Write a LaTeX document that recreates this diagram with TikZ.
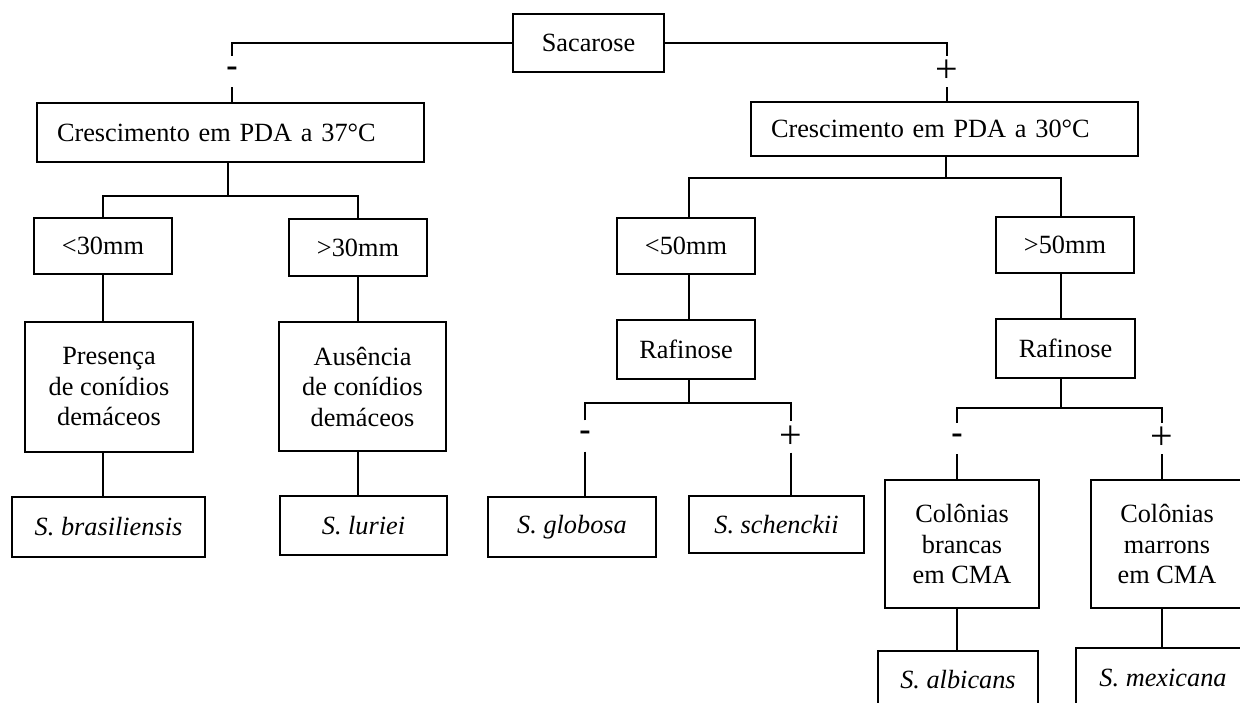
\documentclass[tikz,border=0pt]{standalone}
\usepackage{fontspec}
\setmainfont{Liberation Serif}
\begin{document}
\begin{tikzpicture}[x=1pt,y=-1pt,
  every node/.style={font=\fontsize{26.3}{30.5}\selectfont},
  box/.style={draw, line width=1.9pt, inner sep=0pt, align=center},
  sz/.style 2 args={minimum width=#1, minimum height=#2},
  lbox/.style={box, text width=347pt, align=left, inner xsep=20pt},
  sign/.style={inner sep=0pt, minimum height=31},
  minussign/.style={sign, font=\fontsize{34}{34}\selectfont\bfseries},
  plussign/.style={sign, font=\fontsize{40}{40}\selectfont},
  link/.style={line width=1.9pt}]
\useasboundingbox (0,0) rectangle (1240,702);

% level 0
\node[box, sz={151}{58}] (sac) at (588.5,43) {Sacarose};
\node[minussign] (m1) at (232,71.5) {-};
\node[plussign] (p1) at (947,71.5) {+};

% level 1
\node[lbox, sz={387}{59}] (c37) at (230.5,132.5) {Crescimento em PDA a 37°C};
\node[lbox, sz={387}{54}] (c30) at (944.5,129) {Crescimento em PDA a 30°C};

% left subtree
\coordinate (j1) at (228,196);
\node[box, sz={138}{56}] (lt30) at (103,246) {<30mm};
\node[box, sz={138}{57}] (gt30) at (358,247.5) {>30mm};
\node[box, sz={168}{130}] (pres) at (109,387) {Presença\\de conídios\\demáceos};
\node[box, sz={167}{129}] (aus) at (362.5,386.5) {Ausência\\de conídios\\demáceos};
\node[box, sz={193}{60}] (sbra) at (108.5,527) {\textit{S. brasiliensis}};
\node[box, sz={167}{59}] (slur) at (363.5,525.5) {\textit{S. luriei}};

% right subtree
\coordinate (j2) at (946,178);
\node[box, sz={138}{56}] (lt50) at (686,246) {<50mm};
\node[box, sz={138}{59}] (raf1) at (686,349.5) {Rafinose};
\coordinate (j3) at (689,403);
\node[minussign] (m2) at (585,436) {-};
\node[plussign] (p2) at (791,437) {+};
\node[box, sz={168}{60}] (sglo) at (572,527) {\textit{S. globosa}};
\node[box, sz={175}{57}] (ssch) at (776.5,524.5) {\textit{S. schenckii}};

\node[box, sz={138}{56}] (gt50) at (1065,245) {>50mm};
\node[box, sz={139}{59}] (raf2) at (1065.5,348.5) {Rafinose};
\coordinate (j4) at (1061,408);
\node[minussign] (m3) at (957,438.5) {-};
\node[plussign] (p3) at (1162,438.5) {+};
\node[box, sz={154}{128}] (cb) at (962,544) {Colônias\\brancas\\em CMA};
\node[box, sz={152}{128}] (cm) at (1167,544) {Colônias\\marrons\\em CMA};
\node[box, sz={160}{57}] (salb) at (958,679.5) {\textit{S. albicans}};
\node[box, sz={174}{60}] (smex) at (1163,678) {\textit{S. mexicana}};

% connectors level 0
\draw[link] (sac.west) -| (m1.north);
\draw[link] (m1.south) -- (m1.south |- c37.north);
\draw[link] (sac.east) -| (p1.north);
\draw[link] (p1.south) -- (p1.south |- c30.north);

% left subtree connectors
\draw[link] (c37.south -| j1) -- (j1);
\draw[link] (lt30.north) |- (j1) -| (gt30.north);
\draw[link] (lt30.south) -- (lt30.south |- pres.north);
\draw[link] (gt30.south) -- (gt30.south |- aus.north);
\draw[link] (lt30.south |- pres.south) -- (lt30.south |- sbra.north);
\draw[link] (gt30.south |- aus.south) -- (gt30.south |- slur.north);

% right subtree connectors
\draw[link] (c30.south -| j2) -- (j2);
\draw[link] (j3 |- lt50.north) |- (j2) -| (j4 |- gt50.north);
\draw[link] (j3 |- lt50.south) -- (j3 |- raf1.north);
\draw[link] (j3 |- raf1.south) -- (j3);
\draw[link] (m2.north) |- (j3) -| (p2.north);
\draw[link] (m2.south) -- (m2.south |- sglo.north);
\draw[link] (p2.south) -- (p2.south |- ssch.north);

\draw[link] (j4 |- gt50.south) -- (j4 |- raf2.north);
\draw[link] (j4 |- raf2.south) -- (j4);
\draw[link] (m3.north) |- (j4) -| (p3.north);
\draw[link] (m3.south) -- (m3.south |- cb.north);
\draw[link] (p3.south) -- (p3.south |- cm.north);
\draw[link] (m3.south |- cb.south) -- (m3.south |- salb.north);
\draw[link] (p3.south |- cm.south) -- (p3.south |- smex.north);
\end{tikzpicture}
\end{document}
